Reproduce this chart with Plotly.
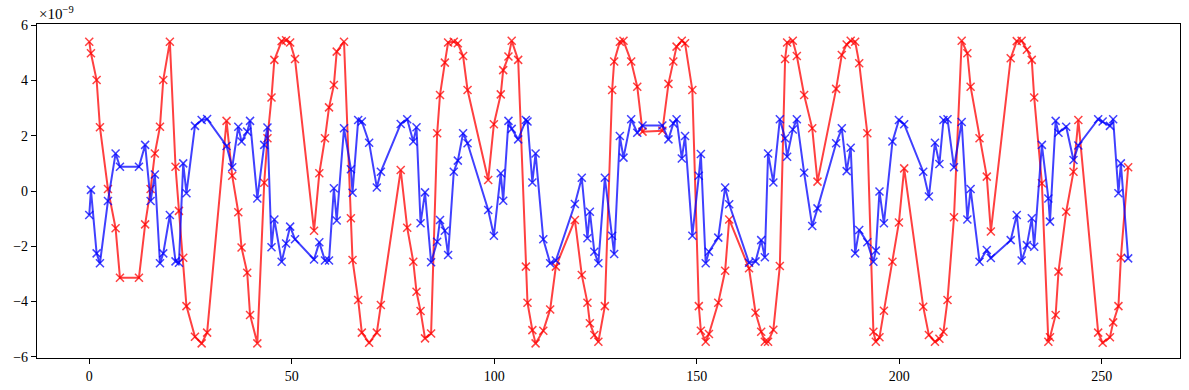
import plotly.graph_objects as go

# shared sample positions
x_vals = [0.0, 0.42, 1.82, 2.64, 4.62, 6.5, 7.58, 12.27, 13.8, 15.15, 16.2, 17.46, 18.27, 19.9,
          21.3, 22.15, 23.2, 24.0, 26.1, 27.75, 29.1, 33.9, 35.3, 36.8, 37.6, 39.0, 39.7, 41.5,
          43.2, 44.0, 45.0, 45.7, 47.5, 48.6, 49.6, 50.8, 55.5, 56.8, 58.2, 59.2, 60.4, 61.1,
          62.9, 64.6, 65.0, 66.4, 67.3, 69.1, 71.0, 72.0, 76.9, 78.5, 80.0, 80.8, 81.8, 82.9,
          84.4, 85.9, 86.6, 87.8, 88.6, 90.0, 91.0, 92.3, 93.4, 98.5, 99.9, 101.6, 102.2, 103.5,
          104.3, 105.9, 107.8, 108.2, 109.4, 110.2, 112.1, 113.8, 115.2, 119.9, 121.6, 123.0,
          123.6, 124.7, 125.7, 127.3, 129.1, 129.6, 131.0, 131.9, 133.8, 135.3, 136.6, 141.5,
          143.0, 144.2, 145.0, 146.3, 147.1, 148.9, 150.5, 151.0, 152.2, 153.0, 155.3, 157.0,
          158.0, 162.9, 164.5, 165.9, 166.8, 167.6, 168.9, 170.5, 171.8, 172.3, 173.7, 174.7,
          176.5, 178.5, 179.8, 184.4, 185.8, 187.0, 188.0, 189.1, 190.1, 192.1, 193.6, 194.2,
          195.1, 196.2, 198.3, 199.9, 201.2, 205.9, 207.3, 208.8, 209.9, 210.9, 211.9, 213.5,
          215.4, 216.8, 217.6, 219.8, 221.6, 222.6, 227.5, 229.0, 230.2, 231.5, 232.7, 233.3,
          235.2, 236.8, 237.2, 238.6, 239.3, 241.2, 243.0, 244.2, 249.1, 250.2, 252.0, 252.8,
          254.1, 254.7, 256.5]

# values in units of 1e-9
red_vals = [5.41, 4.99, 4.02, 2.31, 0.07, -1.35, -3.14, -3.14, -1.21, 0.07, 1.36, 2.33, 4.02, 5.41,
            0.88, -0.72, -2.42, -4.17, -5.28, -5.52, -5.13, 2.54, 0.55, -0.77, -2.05, -2.96, -4.49, -5.52,
            0.3, 1.91, 3.39, 4.75, 5.43, 5.46, 5.38, 4.78, -1.44, 0.64, 1.91, 3.03, 3.84, 5.05,
            5.41, -0.99, -2.5, -3.95, -5.13, -5.5, -5.13, -4.13, 0.76, -1.33, -2.56, -3.65, -4.35, -5.34,
            -5.16, 2.09, 3.48, 4.65, 5.38, 5.41, 5.35, 4.89, 3.66, 0.4, 2.42, 3.5, 4.38, 4.87,
            5.44, 4.75, -2.74, -4.05, -5.04, -5.52, -5.06, -4.29, -2.74, -1.05, -3.04, -4.05,
            -4.79, -5.22, -5.46, -4.17, 3.66, 4.69, 5.41, 5.44, 4.69, 3.78, 2.15, 2.18,
            3.88, 4.69, 5.23, 5.44, 5.35, 3.66, -4.17, -5.06, -5.46, -5.18, -4.05, -2.89,
            -1.03, -2.8, -4.41, -5.1, -5.46, -5.46, -5.03, -2.72, 4.78, 5.38, 5.44, 4.89,
            3.48, 2.27, 0.34, 3.7, 4.93, 5.31, 5.44, 5.41, 4.63, 2.09, -5.1, -5.46,
            -5.3, -4.34, -2.56, -1.14, 0.82, -4.19, -5.22, -5.46, -5.35, -5.1, -3.95, -0.95,
            5.44, 4.99, 3.78, 1.91, 0.52, -1.47, 4.81, 5.43, 5.44, 5.12, 4.75, 3.39,
            0.28, -5.46, -5.3, -4.49, -2.92, -0.75, 0.7, 2.57, -5.13, -5.5, -5.3, -4.76,
            -4.17, -2.42, 0.86]

blue_vals = [-0.87, 0.04, -2.26, -2.62, -0.36, 1.36, 0.88, 0.88, 1.67, -0.36, 0.6, -2.62, -2.26, -0.87,
             -2.55, -2.6, 1.0, -0.08, 2.36, 2.57, 2.61, 1.63, 0.86, 2.33, 1.79, 2.15, 2.54, -0.27,
             1.67, 2.3, -2.04, -1.03, -2.56, -1.9, -1.29, -1.75, -2.48, -1.86, -2.52, -2.52, 0.1, -1.07,
             2.27, 0.79, -0.06, 2.57, 2.52, 1.75, 0.13, 0.7, 2.43, 2.6, 1.79, 2.31, -1.17, -0.05,
             -2.58, -1.84, -1.05, -1.44, -2.32, 0.7, 1.1, 2.09, 1.73, -0.69, -1.62, 0.64, -0.35, 2.54,
             2.25, 1.87, 2.57, 2.52, 0.31, 1.36, -1.75, -2.62, -2.52, -0.47, 0.48, -1.71,
             -0.75, -2.2, -2.62, 0.48, -1.62, -2.28, 1.99, 1.21, 2.6, 2.11, 2.37, 2.37,
             1.87, 2.45, 2.6, 1.18, 1.99, -1.62, 0.55, 1.34, -2.62, -2.2, -1.69, 0.13,
             -0.48, -2.6, -2.55, -1.78, -2.4, 1.36, 0.31, 2.6, 1.91, 1.24, 2.23, 2.6,
             0.66, -1.27, -0.63, 1.73, 2.27, 0.72, 1.57, -2.26, -1.41, -1.86, -2.56, -2.16,
             -0.02, -1.17, 1.79, 2.57, 2.42, 0.7, -0.2, 1.75, 0.98, 2.57, 2.6, 0.86,
             2.5, -1.03, 0.07, -2.56, -2.14, -2.43, -1.78, -0.87, -2.52, -1.96, -0.99, -2.02,
             1.67, -0.27, -1.11, 2.54, 2.11, 2.33, 1.12, 1.65, 2.6, 2.52, 2.36, 2.6,
             -0.08, 1.0, -2.44]

x_ticks = [0, 50, 100, 150, 200, 250]
y_ticks = [-6, -4, -2, 0, 2, 4, 6]
y_ticktext = ["\u22126", "\u22124", "\u22122", "0", "2", "4", "6"]

FONT = "Liberation Serif"

fig = go.Figure()
fig.add_trace(go.Scatter(
    x=x_vals, y=red_vals, mode="lines+markers",
    line=dict(color="rgba(255,0,0,0.75)", width=2),
    marker=dict(symbol="x-thin", size=8, line=dict(color="rgba(255,0,0,0.75)", width=1.5),
                color="rgba(255,0,0,0.75)"),
    showlegend=False))
fig.add_trace(go.Scatter(
    x=x_vals, y=blue_vals, mode="lines+markers",
    line=dict(color="rgba(0,0,255,0.75)", width=2),
    marker=dict(symbol="x-thin", size=8, line=dict(color="rgba(0,0,255,0.75)", width=1.5),
                color="rgba(0,0,255,0.75)"),
    showlegend=False))

fig.update_layout(
    width=1189, height=390,
    margin=dict(l=37, r=9, t=24, b=32, autoexpand=False),
    paper_bgcolor="white", plot_bgcolor="white",
    font=dict(family=FONT, size=14, color="black"),
    hovermode=False,
    xaxis=dict(range=[-12.9, 269.3], tickvals=x_ticks, ticks="outside", ticklen=5,
               tickcolor="black", showline=True, linecolor="black", linewidth=1.2,
               mirror=True, showgrid=False, zeroline=False, automargin=False),
    yaxis=dict(range=[-6.05, 6.05], tickvals=y_ticks, ticktext=y_ticktext, ticks="outside",
               ticklen=5, tickcolor="black", showline=True, linecolor="black", linewidth=1.2,
               mirror=True, showgrid=False, zeroline=False, automargin=False),
    annotations=[dict(text="\u00d710<sup>\u22129</sup>", xref="paper", yref="paper",
                      x=0, y=1, xanchor="left", yanchor="bottom", showarrow=False,
                      font=dict(family=FONT, size=15))],
)

fig.write_html("out.html", config={"displayModeBar": False})

# remove the default page margin so the figure sits at the window's top-left corner
with open("out.html", "r", encoding="utf-8") as f:
    html = f.read()
html = html.replace("<head>", "<head><style>html,body{margin:0;padding:0;overflow:hidden;}</style>", 1)
with open("out.html", "w", encoding="utf-8") as f:
    f.write(html)
